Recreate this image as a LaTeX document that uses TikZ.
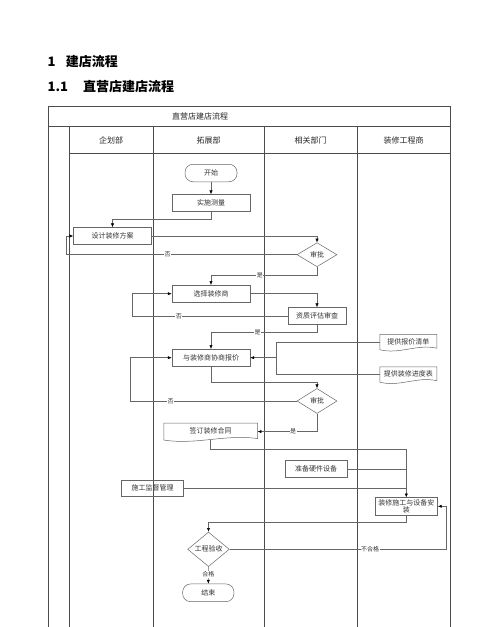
\documentclass[tikz,border=0pt]{standalone}
\usepackage{fontspec}
\setmainfont{Noto Sans CJK SC}
\usetikzlibrary{arrows.meta,shapes.geometric,calc}
\begin{document}
\begin{tikzpicture}[x=1pt,y=-1pt,
  lane/.style={draw=black!70,line width=0.6pt},
  conn/.style={draw=black!60,line width=0.5pt},
  arr/.style={conn,-{Latex[length=3.8pt,width=3.2pt,color=black]}},
  txt/.style={font=\fontsize{7}{8}\selectfont,text=black!80},
  box/.style={txt,draw=black!60,line width=0.5pt,rectangle,inner sep=0pt,minimum width=78pt,minimum height=17pt},
  term/.style={box,rounded corners=8pt,minimum width=52pt,minimum height=17.5pt},
  dia/.style={txt,diamond,draw=black!60,line width=0.5pt,inner sep=0pt,minimum width=40pt,minimum height=24pt},
  doc/.style={txt,inner sep=0pt,minimum height=15pt},
  lbl/.style={font=\fontsize{6}{7}\selectfont,fill=white,inner sep=0.5pt,text=black!80},
  head/.style={font=\fontsize{8}{9}\selectfont,text=black!85},
  htitle/.style={font=\fontsize{13}{15}\selectfont\bfseries,anchor=west,inner sep=0pt},
]
\useasboundingbox (0,0) rectangle (500,627);
% headings
\node[htitle] (h1n) at (47.5,61.7) {1};
\node[htitle] (h1t) at (65.7,61.7) {建店流程};
\node[htitle] (h2n) at (47.5,87) {1.1};
\node[htitle] (h2t) at (83,87) {直营店建店流程};
% table frame
\draw[lane] (48.3,627) -- (48.3,106.7) -- (450.7,106.7) -- (450.7,627);
\draw[lane] (48.3,126.7) -- (450.7,126.7);
\draw[lane] (69,153.3) -- (450.7,153.3);
\foreach \x in {69,153.3,264.3,357} \draw[lane] (\x,126.7) -- (\x,627);
\node[head] (ttl) at (200,116.5) {直营店建店流程};
\node[head] (l1) at (111,140) {企划部};
\node[head] (l2) at (208.5,140) {拓展部};
\node[head] (l3) at (310.7,140) {相关部门};
\node[head] (l4) at (403.5,140) {装修工程商};
% nodes
\node[term] (start) at (211,173) {开始};
\node[box] (survey) at (211,203) {实施测量};
\node[box] (design) at (112.5,236) {设计装修方案};
\node[dia] (ap1) at (317,254.7) {审批};
\node[box] (choose) at (211,293.7) {选择装修商};
\node[box,minimum width=58pt] (qual) at (317,316) {资质评估审查};
\node[box] (nego) at (211,357.7) {与装修商协商报价};
\node[doc,minimum width=56.7pt] (quote) at (408.3,342) {\raisebox{1.5pt}{提供报价清单}};
\node[doc,minimum width=56.7pt] (sched) at (408.3,374.5) {\raisebox{1.5pt}{提供装修进度表}};
\node[dia,minimum height=25pt] (ap2) at (317,401) {审批};
\node[doc,minimum width=93.3pt,minimum height=16.5pt] (contract) at (210.7,431.6) {\raisebox{1.5pt}{签订装修合同}};
\node[box,minimum width=61.7pt,minimum height=16.7pt] (hw) at (316,469) {准备硬件设备};
\node[box,minimum width=61.6pt,minimum height=16pt] (sup) at (152.5,488) {施工监督管理};
\node[box,minimum width=62.7pt,minimum height=17.3pt,align=center,font=\fontsize{7}{8}\selectfont] (inst) at (406.3,506.3) {装修施工与设备安\\[-1pt]装};
\node[dia,minimum width=41.6pt,minimum height=24.4pt] (acc) at (208.5,549.3) {工程验收};
\node[term,minimum width=51.3pt,minimum height=17.7pt] (end) at (208.3,592.8) {结束};
% document shapes
\foreach \n in {quote,sched,contract}{
  \draw[conn] (\n.north west) -- (\n.north east) -- ($(\n.south east)+(0,-1.5)$)
    .. controls ($(\n.south west)!0.65!(\n.south east)+(0,-6)$) and ($(\n.south west)!0.35!(\n.south east)+(0,5)$) .. (\n.south west) -- cycle;
}
% connectors
\draw[arr] (start.south) -- (survey.north);
\draw[arr] (survey.south) -- ++(0,7.5) -| (design.north);
\draw[arr] (design.east) -| (ap1.north);
\coordinate (n1) at (66,254.7);
\draw[arr] (ap1.west) -- node[lbl,pos=0.56] {否} (n1) |- (design.west);
\draw[arr] (ap1.south) -- ++(0,8.3) -| node[lbl,pos=0.27] {是} (choose.north);
\draw[arr] (choose.east) -| (qual.north);
\coordinate (n2) at (132.3,316);
\draw[arr] (qual.west) -- node[lbl,pos=0.7] {否} (n2) |- (choose.west);
\draw[arr] (qual.south) -- ++(0,7.7) -| node[lbl,pos=0.28] {是} (nego.north);
\coordinate (jx) at (276.7,0);
\draw[conn] (quote.west) -- (quote.west -| jx) -- (sched.west -| jx) -- (sched.west);
\draw[arr] (nego.east -| jx) -- (nego.east);
\draw[arr] (nego.south) -- ++(0,15.5) -| (ap2.north);
\coordinate (n3) at (130.7,401);
\draw[arr] (ap2.west) -- node[lbl,pos=0.76] {否} (n3) |- (nego.west);
\draw[arr] (ap2.south) |- node[lbl,pos=0.7] {是} (contract.east);
\draw[arr] (contract.south) -- ++(0,9) -| (inst.north);
\draw[conn] (hw.east) -- (hw.east -| inst.north);
\draw[conn] (sup.east) -- (sup.east -| inst.north);
\draw[arr] (inst.south) -- ++(0,7.5) -| (acc.north);
\coordinate (n4) at (446,549.3);
\draw[arr] (acc.east) -- node[lbl,pos=0.65] {不合格} (n4) |- (inst.east);
\draw[arr] (acc.south) -- node[lbl,pos=0.45] {合格} (end.north);
\end{tikzpicture}
\end{document}
